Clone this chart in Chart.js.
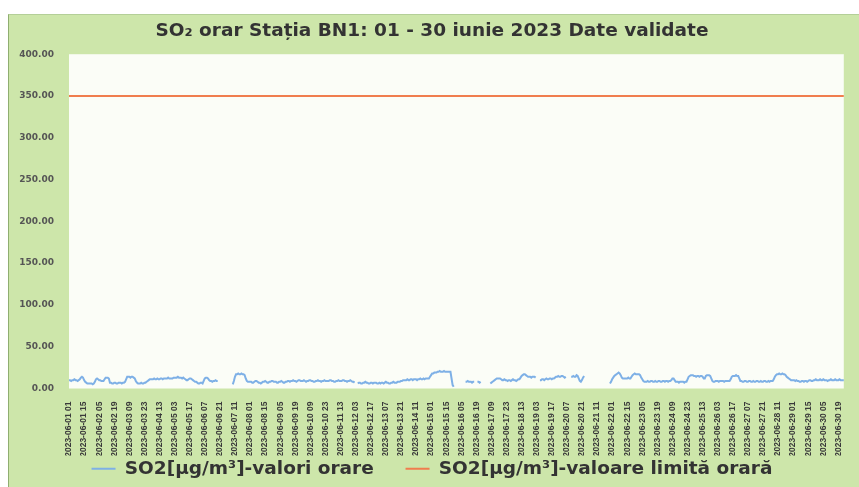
<!DOCTYPE html>
<html>
<head>
<meta charset="utf-8">
<script src="https://cdn.jsdelivr.net/npm/chart.js@4.4.1/dist/chart.umd.min.js"></script>
<style>
  body { margin: 0; background: #ffffff; }
  #frame {
    position: absolute; left: 8px; top: 14px; width: 850px; height: 473px;
    background: #cde6aa; border-left: 1px solid #8fae70; border-top: 1px solid #b4cf98;
  }
  #so2 { display: block; }
</style>
</head>
<body>
<div id="frame"><canvas id="so2" width="850" height="473"></canvas></div>
<script>
// hourly SO2 values, one array per day (hours 01..24), null = missing
const d01 = [10,10,9,10,10,11,10,10,9,10,11,13,14,13,10,8,7,6,6,6,6,6,5,6];
const d02 = [8,11,12,11,10,10,9,9,9,11,13,13,13,12,7,7,6,6,7,7,6,6,7,7];
const d03 = [7,6,7,7,8,11,14,14,14,13,14,14,13,12,9,7,6,6,6,7,6,6,7,7];
const d04 = [8,9,10,11,11,11,11,12,11,11,12,11,11,12,12,11,12,12,12,12,13,12,12,12];
const d05 = [12,13,13,13,13,14,13,13,13,12,13,12,11,10,10,11,12,12,11,10,9,8,8,7];
const d06 = [6,6,7,7,6,9,12,13,13,12,10,9,9,8,9,9,10,9,9,null,null,null,null,null];
const d07 = [null,null,null,null,null,null,null,null,5,9,14,17,17,18,17,17,18,17,17,16,12,9,8,8];
const d08 = [8,8,7,7,8,9,9,8,7,7,6,7,8,8,9,8,7,7,8,8,9,9,8,8];
const d09 = [8,7,7,8,8,9,8,7,7,8,8,9,9,8,9,9,10,9,9,8,9,10,10,9];
const d10 = [9,9,10,9,8,9,9,10,10,9,9,8,8,9,9,10,9,9,8,9,9,10,9,9];
const d11 = [9,9,10,10,9,9,8,8,9,9,10,9,9,9,10,10,9,9,8,9,9,10,9,8];
const d12 = [8,7,null,null,6,7,7,6,6,7,7,8,7,7,6,6,7,7,6,7,7,7,6,6];
const d13 = [7,6,7,7,6,7,8,7,7,6,6,7,7,8,7,7,7,8,8,8,9,9,10,10];
const d14 = [10,10,11,10,10,11,11,10,11,11,11,10,11,11,12,11,11,12,11,12,12,12,12,14];
const d15 = [16,18,18,19,19,19,20,20,21,20,20,20,21,20,20,20,20,20,20,12,4,2,null,null];
const d16 = [null,null,null,null,null,null,null,null,8,8,9,8,8,8,7,8,8,null,null,8,8,7,8,null];
const d17 = [null,null,null,null,null,null,null,6,7,8,9,10,11,12,12,12,12,11,10,10,11,10,10,9];
const d18 = [10,10,9,10,11,10,10,9,10,11,11,13,15,16,17,17,16,15,14,14,14,13,14,14];
const d19 = [14,13,null,null,null,10,10,11,11,10,11,12,11,11,12,12,11,12,12,13,14,14,15,14];
const d20 = [14,15,15,14,13,14,null,null,null,null,14,14,15,14,14,16,15,12,9,8,10,13,15,null];
const d21 = [null,null,null,null,null,null,null,null,null,null,null,null,null,null,null,null,null,null,null,null,null,null,6,8];
const d22 = [11,13,15,16,17,18,19,18,16,13,12,12,12,12,12,13,12,12,14,16,17,18,17,17];
const d23 = [17,17,16,13,11,9,8,8,8,9,8,8,9,9,8,8,9,8,8,9,9,8,8,9];
const d24 = [9,8,9,9,8,9,9,10,12,12,10,8,8,8,7,8,8,8,8,7,8,8,11,14];
const d25 = [15,16,16,16,15,15,14,15,15,14,15,15,14,12,12,15,16,16,16,15,12,9,8,8];
const d26 = [9,9,9,8,9,9,9,9,8,9,9,9,9,9,11,14,15,15,15,16,15,15,12,9];
const d27 = [9,8,8,9,9,8,8,9,9,8,8,9,8,8,9,9,8,8,9,8,8,9,9,8];
const d28 = [8,9,8,9,9,9,11,14,16,17,17,18,17,17,18,17,17,16,14,13,12,11,10,10];
const d29 = [10,10,9,10,9,9,8,8,9,9,8,9,9,8,9,10,10,9,9,10,10,11,10,10];
const d30 = [10,11,10,10,11,10,10,10,9,10,10,11,10,10,10,11,10,10,10,11,10,10,10,10];

const limitValue = 350;
const yTicks = [0, 50, 100, 150, 200, 250, 300, 350, 400];
const labelStep = 14;
const seriesNames = ['SO2[µg/m³]-valori orare', 'SO2[µg/m³]-valoare limită orară'];

const days = [d01,d02,d03,d04,d05,d06,d07,d08,d09,d10,d11,d12,d13,d14,d15,
              d16,d17,d18,d19,d20,d21,d22,d23,d24,d25,d26,d27,d28,d29,d30];
const so2 = [];
const hours = [];
days.forEach((day, di) => {
  day.forEach((v, hi) => {
    so2.push(v);
    hours.push('2023-06-' + String(di + 1).padStart(2, '0') + ' ' + String(hi + 1).padStart(2, '0'));
  });
});
const limit = hours.map(() => limitValue);

const wide = "'DejaVu Sans', Verdana, sans-serif";
const narrow = "'Liberation Sans', Arial, sans-serif";

// white plot area inside the green frame
const bgPlugin = {
  id: 'bg',
  beforeDraw(chart) {
    const { ctx, chartArea } = chart;
    ctx.save();
    ctx.fillStyle = '#fbfdf7';
    ctx.fillRect(chartArea.left, chartArea.top, chartArea.right - chartArea.left, chartArea.bottom - chartArea.top);
    ctx.restore();
  }
};

new Chart(document.getElementById('so2'), {
  type: 'line',
  data: {
    labels: hours,
    datasets: [
      { label: seriesNames[0], data: so2, borderColor: '#7eb0e6', backgroundColor: '#7eb0e6',
        borderWidth: 2, pointRadius: 0, tension: 0, spanGaps: false },
      { label: seriesNames[1], data: limit, borderColor: '#f07d4e', backgroundColor: '#f07d4e',
        borderWidth: 2, pointRadius: 0, tension: 0 }
    ]
  },
  options: {
    responsive: false,
    animation: false,
    devicePixelRatio: 1,
    layout: { padding: { left: 0, right: 4, top: 0, bottom: 0 } },
    plugins: {
      title: {
        display: true,
        text: 'SO₂ orar Stația BN1: 01 - 30 iunie 2023 Date validate',
        color: '#333333',
        font: { family: wide, size: 18.5, weight: 'bold' },
        padding: { top: 5, bottom: 12 }
      },
      legend: {
        position: 'bottom',
        labels: {
          usePointStyle: true,
          pointStyle: 'line',
          pointStyleWidth: 24,
          color: '#333333',
          padding: 4,
          font: { family: wide, size: 18.5, weight: 'bold' },
          generateLabels(chart) {
            const items = Chart.defaults.plugins.legend.labels.generateLabels(chart);
            items[0].text += '\u2003\u2002';
            return items;
          }
        }
      },
      tooltip: { enabled: false }
    },
    scales: {
      x: {
        grid: { display: false },
        border: { display: false },
        afterFit(scale) { scale.height = 67; },
        ticks: {
          autoSkip: false,
          maxRotation: 90,
          minRotation: 90,
          padding: 5,
          color: '#3a3a3a',
          font: { family: narrow, size: 8.5, weight: 'bold' },
          callback: (v, i) => (i % labelStep === 0 ? hours[i] : '')
        }
      },
      y: {
        min: 0,
        max: 400,
        grid: { display: false },
        border: { display: false },
        afterFit(scale) { scale.width = 60; },
        afterBuildTicks(scale) { scale.ticks = yTicks.map(v => ({ value: v })); },
        ticks: {
          padding: 7,
          color: '#555555',
          font: { family: wide, size: 9, weight: 'bold' },
          callback: v => v.toFixed(2)
        }
      }
    }
  },
  plugins: [bgPlugin]
});
</script>
</body>
</html>
